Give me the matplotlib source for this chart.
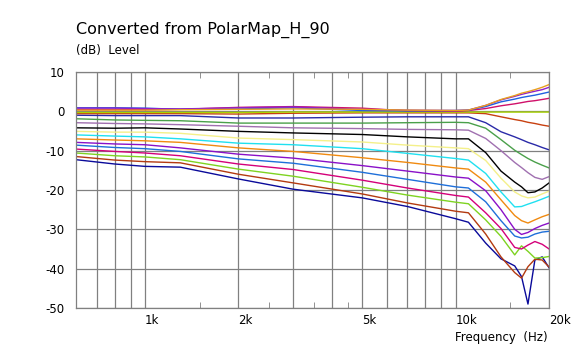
import matplotlib
matplotlib.use("Agg")
import matplotlib.pyplot as plt
from matplotlib.ticker import FixedLocator, NullFormatter

# shared frequency grid (Hz)
freqs = [600, 800, 1000, 1300, 2000, 3000, 5000, 7000, 10000, 11000,
         12500, 14000, 15500, 16300, 17100, 18000, 19000, 20000]

# level curves (dB), listed from top to bottom at 20 kHz
c_orange_up = [0.3, 0.3, 0.3, 0.4, 0.5, 0.6, 0.5, 0.3, 0.2, 0.3, 1.5, 3.0, 4.0, 4.6, 5.0, 5.5, 6.1, 6.8]
c_violet_up = [0.8, 0.8, 0.7, 0.6, 0.9, 1.1, 0.5, 0.3, 0.2, 0.3, 1.5, 2.9, 3.8, 4.3, 4.7, 5.1, 5.5, 6.1]
c_blue_up = [0.9, 0.9, 0.8, 0.5, 0.6, 0.9, 0.2, 0.1, 0.2, 0.3, 1.2, 2.4, 3.1, 3.5, 3.8, 4.1, 4.5, 4.9]
c_crimson_up = [0.4, 0.4, 0.4, 0.5, 1.0, 1.2, 0.8, 0.1, 0.0, 0.2, 0.7, 1.4, 1.9, 2.2, 2.5, 2.7, 3.0, 3.3]
c_lime = [-0.3, -0.3, -0.3, -0.3, -0.3, -0.2, -0.2, -0.2, -0.2, -0.2, -0.2, -0.2, -0.2, -0.2, -0.2, -0.2, -0.2, -0.2]
c_rust = [-0.6, -0.6, -0.6, -0.6, -0.7, -0.5, -0.4, -0.4, -0.4, -0.4, -0.6, -1.4, -2.1, -2.4, -2.8, -3.1, -3.5, -3.8]
c_navy_a = [-1.0, -1.1, -1.1, -1.1, -1.7, -1.7, -1.5, -1.4, -1.4, -1.4, -2.9, -5.2, -6.5, -7.2, -7.9, -8.5, -9.2, -9.8]
c_olive = [-1.9, -2.2, -2.3, -2.4, -3.0, -3.0, -3.0, -2.9, -2.8, -2.9, -4.3, -7.2, -9.9, -11.0, -12.0, -12.9, -13.7, -14.4]
c_mauve = [-2.9, -3.1, -3.2, -3.4, -3.8, -4.2, -4.4, -4.6, -4.7, -4.8, -6.9, -10.0, -13.0, -14.3, -15.6, -16.8, -17.3, -16.6]
c_black = [-4.2, -4.3, -4.2, -4.5, -5.1, -5.5, -5.9, -6.5, -7.0, -7.0, -10.5, -15.2, -18.0, -19.2, -20.7, -20.5, -19.5, -18.2]
c_yellow = [-5.1, -5.3, -5.3, -5.6, -6.8, -7.2, -7.8, -8.6, -9.3, -9.5, -12.5, -17.0, -20.5, -21.5, -22.0, -21.8, -21.0, -20.3]
c_cyan = [-6.0, -6.3, -6.5, -7.0, -8.1, -8.5, -9.5, -10.7, -12.0, -12.4, -15.8, -20.5, -24.3, -24.2, -23.6, -23.0, -22.3, -21.6]
c_orange = [-7.0, -7.3, -7.5, -7.9, -9.3, -10.2, -11.8, -13.0, -14.4, -14.7, -18.0, -22.5, -26.5, -27.8, -28.4, -27.6, -26.8, -26.2]
c_purple = [-7.9, -8.3, -8.5, -9.3, -10.9, -11.9, -13.8, -15.2, -16.7, -17.0, -20.2, -25.0, -30.0, -31.3, -30.8, -29.8, -29.0, -28.4]
c_blue = [-8.6, -9.2, -9.5, -10.2, -12.1, -13.2, -15.5, -17.3, -19.2, -19.5, -23.0, -27.8, -31.7, -32.2, -32.0, -31.2, -30.7, -30.5]
c_magenta = [-9.6, -10.2, -10.6, -11.3, -13.4, -14.8, -17.5, -19.5, -21.4, -21.8, -25.8, -29.8, -34.6, -35.0, -34.0, -33.1, -33.8, -35.0]
c_green = [-10.6, -11.3, -11.6, -12.3, -14.7, -16.5, -19.3, -21.3, -23.1, -23.5, -27.6, -31.8, -36.5, -34.2, -35.6, -37.3, -37.2, -36.9]
c_brown = [-11.5, -12.4, -12.8, -13.1, -16.0, -18.2, -21.0, -23.3, -25.4, -25.8, -31.2, -37.0, -41.0, -42.4, -39.5, -37.6, -37.8, -39.6]
c_navy_b = [-12.3, -13.4, -14.0, -14.2, -17.2, -19.8, -22.0, -24.2, -27.3, -28.2, -33.5, -37.5, -39.3, -42.0, -49.0, -37.8, -37.0, -39.8]

curves = [
    (c_navy_b, "#0a0a9a"), (c_brown, "#b33a10"), (c_green, "#7ed321"),
    (c_magenta, "#d4007a"), (c_blue, "#1e6fd9"), (c_purple, "#8a10c8"),
    (c_orange, "#f08a10"), (c_cyan, "#20e0f0"), (c_yellow, "#f4f08a"),
    (c_black, "#000000"), (c_mauve, "#a070b0"), (c_olive, "#4aa04a"),
    (c_navy_a, "#2a2aa8"), (c_rust, "#c84010"), (c_lime, "#a8d400"),
    (c_crimson_up, "#d0106a"), (c_blue_up, "#2060e0"), (c_violet_up, "#9020c8"),
    (c_orange_up, "#e8a020"),
]

grid_freqs = [700, 800, 900, 1000, 2000, 3000, 4000, 5000, 6000, 7000, 8000, 9000, 10000, 20000]
minor_freqs = [1500, 2500, 3500, 4500, 15000]
label_freqs = {1000: "1k", 2000: "2k", 5000: "5k", 10000: "10k", 20000: "20k"}
y_ticks = [10, 0, -10, -20, -30, -40, -50]

fig = plt.figure(figsize=(5.78, 3.51), dpi=100)
ax = fig.add_axes([0.1315, 0.1225, 0.8185, 0.6725])

for vals, col in curves:
    ax.plot(freqs, vals, color=col, lw=1.0)

ax.set_xscale("log")
ax.set_xlim(600, 20000)
ax.set_ylim(-50, 10)

ax.xaxis.set_major_locator(FixedLocator(grid_freqs))
ax.set_xticklabels([label_freqs.get(f, "") for f in grid_freqs])
ax.xaxis.set_minor_locator(FixedLocator(minor_freqs))
ax.xaxis.set_minor_formatter(NullFormatter())
ax.set_yticks(y_ticks)
ax.set_yticklabels([str(v) for v in y_ticks])

ax.grid(True, which="major", color="#808080", lw=0.9)
ax.tick_params(axis="x", which="major", length=0, pad=4.5, labelsize=8.5)
ax.tick_params(axis="x", which="minor", length=4, direction="in", top=True, bottom=True, color="#808080")
ax.tick_params(axis="y", length=0, pad=8.5, labelsize=8.5)
for lab in ax.get_xticklabels():
    lab.set_ha("left")
for s in ax.spines.values():
    s.set_color("#808080")
    s.set_linewidth(0.9)

fig.text(0.1315, 0.905, "Converted from PolarMap_H_90", fontsize=11.5, ha="left", va="baseline")
fig.text(0.1315, 0.855, "(dB)  Level", fontsize=8.5, ha="left", va="center")
fig.text(0.948, 0.038, "Frequency  (Hz)", fontsize=8.5, ha="right", va="center")

fig.savefig("out.png", dpi=100)
